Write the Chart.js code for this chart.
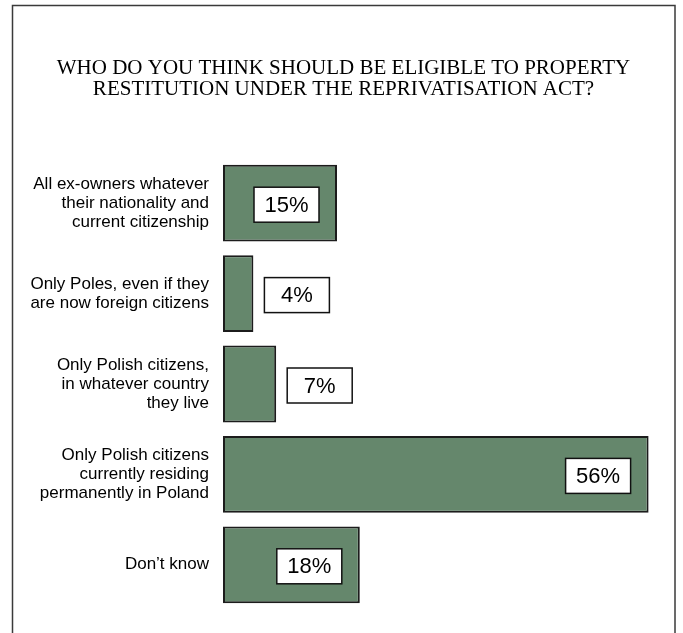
<!DOCTYPE html>
<html>
<head>
<meta charset="utf-8">
<title>Reprivatisation survey</title>
<script src="https://cdn.jsdelivr.net/npm/chart.js@4/dist/chart.umd.min.js"></script>
<style>
  body { margin: 0; background: #fff; }
  canvas { display: block; }
</style>
</head>
<body>
<canvas id="chartEligible" width="683" height="633"></canvas>
<script>
var titleLines = [
    'WHO DO YOU THINK SHOULD BE ELIGIBLE TO PROPERTY',
    'RESTITUTION UNDER THE REPRIVATISATION ACT?'
];
var answers = [
    ['All ex-owners whatever', 'their nationality and', 'current citizenship'],
    ['Only Poles, even if they', 'are now foreign citizens'],
    ['Only Polish citizens,', 'in whatever country', 'they live'],
    ['Only Polish citizens', 'currently residing', 'permanently in Poland'],
    'Don\u2019t know'
];
var shares = [15, 4, 7, 56, 18];

// outer frame around the whole figure
var framePlugin = {
    id: 'frame',
    beforeDraw: function (chart) {
        var c = chart.ctx;
        c.save();
        c.strokeStyle = '#3a3a3a';
        c.lineWidth = 1.5;
        c.strokeRect(12.5, 5.5, 662.5, 700);
        c.restore();
    }
};

// white boxed percentage next to / inside each bar
var boxLabels = {
    id: 'boxLabels',
    afterDatasetsDraw: function (chart) {
        var c = chart.ctx;
        var meta = chart.getDatasetMeta(0);
        var boxW = 65, boxH = 35;
        c.save();
        c.font = '22px "Liberation Sans", Arial, sans-serif';
        c.textAlign = 'center';
        c.textBaseline = 'middle';
        meta.data.forEach(function (bar, i) {
            var left;
            if (bar.x - bar.base > boxW + 36) {
                left = bar.x - 18 - boxW;
            } else {
                left = bar.x + 11;
            }
            var top = bar.y + 1.5 - boxH / 2;
            c.fillStyle = '#fff';
            c.fillRect(left, top, boxW, boxH);
            c.strokeStyle = '#111';
            c.lineWidth = 1.5;
            c.strokeRect(left, top, boxW, boxH);
            c.fillStyle = '#000';
            c.fillText(shares[i] + '%', left + boxW / 2, top + boxH / 2 + 1);
        });
        c.restore();
    }
};

var ctx = document.getElementById('chartEligible').getContext('2d');
var myChart = new Chart(ctx, {
    type: 'bar',
    data: {
        labels: answers,
        datasets: [{
            data: shares,
            backgroundColor: '#65876c',
            borderColor: '#1c1c1c',
            borderWidth: 2,
            borderSkipped: false,
            categoryPercentage: 1,
            barPercentage: 0.85
        }]
    },
    options: {
        indexAxis: 'y',
        responsive: false,
        animation: false,
        events: [],
        layout: {
            padding: { left: 8, right: 4, top: 0, bottom: 23 }
        },
        scales: {
            x: {
                display: false,
                min: 0,
                max: 60
            },
            y: {
                grid: { display: false, drawTicks: false },
                border: { display: false },
                afterFit: function (scale) {
                    // fixed label column; labels may overhang the plot edges
                    scale.width = 215;
                    scale.paddingTop = 0;
                    scale.paddingBottom = 0;
                },
                ticks: {
                    autoSkip: false,
                    padding: 14,
                    color: '#000',
                    font: {
                        family: '"Liberation Sans", Arial, sans-serif',
                        size: 17,
                        lineHeight: 1.12
                    }
                }
            }
        },
        plugins: {
            legend: { display: false },
            tooltip: { enabled: false },
            title: {
                display: true,
                text: titleLines,
                color: '#000',
                padding: { top: 58, bottom: 58 },
                font: {
                    family: '"Liberation Serif", "Times New Roman", serif',
                    size: 21,
                    weight: 'normal',
                    lineHeight: 1.0
                }
            }
        }
    },
    plugins: [framePlugin, boxLabels]
});
</script>
</body>
</html>
